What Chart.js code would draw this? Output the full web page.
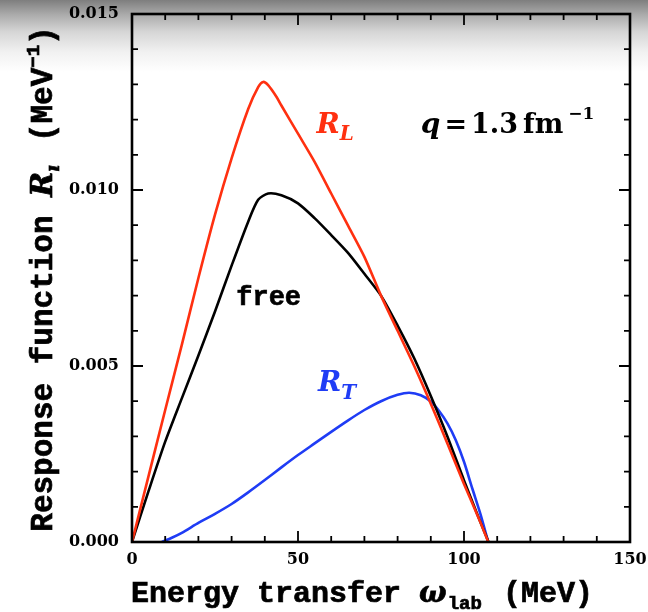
<!DOCTYPE html>
<html>
<head>
<meta charset="utf-8">
<script src="https://cdn.jsdelivr.net/npm/chart.js@4/dist/chart.umd.min.js"></script>
<style>
  html, body { margin: 0; padding: 0; }
  body {
    width: 648px; height: 612px; overflow: hidden;
    background: linear-gradient(to bottom, #7e7e7e 0px, #a9a9a9 14px, #d6d6d6 32px, #f1f1f1 52px, #ffffff 72px);
  }
  canvas { display: block; }
</style>
</head>
<body>
<canvas id="chart" width="648" height="612" style="width:648px;height:612px"></canvas>
<script>
// Energy transfer (MeV) and response functions (MeV^-1), q = 1.3 fm^-1
const energyRL   = [0, 5, 10, 15, 20, 25, 30, 35, 38, 39.5, 41, 43.5, 45, 50, 55, 60, 65, 70, 75, 80, 85, 90, 95, 100, 105, 107.3];
const responseRL = [0, 0.00188, 0.00375, 0.0056, 0.0075, 0.0093, 0.0109, 0.0123, 0.01292, 0.01307, 0.01298, 0.01265, 0.0124, 0.0116, 0.0108, 0.0099, 0.0090, 0.0081, 0.0070, 0.0060, 0.0050, 0.00393, 0.0028, 0.00165, 0.00055, 0];

const energyFree   = [0, 5, 10, 15, 20, 25, 30, 35, 38, 41, 45, 50, 55, 60, 65, 70, 75, 80, 85, 90, 95, 100, 105, 107.4];
const responseFree = [0, 0.00145, 0.00285, 0.00408, 0.0053, 0.00655, 0.00785, 0.0091, 0.00972, 0.0099, 0.00985, 0.00962, 0.0092, 0.00872, 0.00822, 0.00762, 0.0070, 0.00615, 0.00522, 0.00415, 0.0030, 0.00175, 0.00055, 0];

const energyRT   = [9, 12, 15, 20, 25, 30, 35, 40, 45, 50, 55, 60, 65, 70, 75, 80, 83.5, 87, 90, 92.5, 95, 97.5, 100, 102.5, 105, 107.3];
const responseRT = [0, 0.00012, 0.00026, 0.00054, 0.0008, 0.00108, 0.00141, 0.00176, 0.00212, 0.00247, 0.0028, 0.00313, 0.00345, 0.00375, 0.0040, 0.00418, 0.00424, 0.00417, 0.00399, 0.00372, 0.00337, 0.0029, 0.00228, 0.00152, 0.00078, 0];

const xTicks = [0, 50, 100, 150];
const yTicks = [0, 0.005, 0.010, 0.015];

const RED = '#ff3010';
const BLUE = '#1f3cf5';
const BLACK = '#000000';

const toPoints = (xs, ys) => xs.map((x, i) => ({ x, y: ys[i] }));

const TICK_FONT = { family: 'DejaVu Serif', size: 16, weight: 'bold' };
const MONO = '"Liberation Mono", "DejaVu Sans Mono", monospace';
const SERIF = '"DejaVu Serif", serif';

// draw a run of text pieces (with sub/superscripts) centred on (cx, cy)
function drawRich(ctx, parts, cx, cy, rotation, thicken) {
  ctx.save();
  ctx.translate(cx, cy);
  ctx.rotate(rotation || 0);
  ctx.textBaseline = 'alphabetic';
  ctx.textAlign = 'left';
  let total = 0;
  const widths = parts.map(p => {
    ctx.font = p.font;
    const w = ctx.measureText(p.t).width + (p.gap || 0);
    total += w;
    return w;
  });
  let x = -total / 2;
  parts.forEach((p, i) => {
    ctx.font = p.font;
    ctx.fillStyle = p.color || '#000';
    ctx.fillText(p.t, x, p.dy || 0);
    if (thicken) {
      ctx.strokeStyle = p.color || '#000';
      ctx.lineWidth = thicken;
      ctx.strokeText(p.t, x, p.dy || 0);
    }
    x += widths[i];
  });
  ctx.restore();
}

// left-aligned run of text pieces starting at (x, y)
function drawRun(ctx, parts, x, y) {
  ctx.save();
  ctx.textBaseline = 'alphabetic';
  ctx.textAlign = 'left';
  parts.forEach(p => {
    ctx.font = p.font;
    ctx.fillStyle = p.color || '#000';
    ctx.fillText(p.t, x, y + (p.dy || 0));
    x += ctx.measureText(p.t).width + (p.gap || 0);
  });
  ctx.restore();
}

// frame with inward ticks on all four sides
const framePlugin = {
  id: 'frame',
  afterDatasetsDraw(chart) {
    const { ctx, chartArea: a, scales: { x, y } } = chart;
    ctx.save();
    ctx.strokeStyle = '#000';
    ctx.lineWidth = 1.8;
    ctx.lineCap = 'butt';
    ctx.beginPath();
    for (let v = 0; v <= 150; v += 10) {
      const px = x.getPixelForValue(v);
      const len = v % 50 === 0 ? 11 : 6;
      ctx.moveTo(px, a.bottom); ctx.lineTo(px, a.bottom - len);
      ctx.moveTo(px, a.top); ctx.lineTo(px, a.top + len);
    }
    for (let k = 0; k <= 15; k++) {
      const py = y.getPixelForValue(k * 0.001);
      const len = k % 5 === 0 ? 11 : 6;
      ctx.moveTo(a.left, py); ctx.lineTo(a.left + len, py);
      ctx.moveTo(a.right, py); ctx.lineTo(a.right - len, py);
    }
    ctx.stroke();
    ctx.lineWidth = 2.6;
    ctx.strokeRect(a.left, a.top, a.right - a.left, a.bottom - a.top);
    ctx.restore();
  }
};

// axis titles and curve labels
const labelPlugin = {
  id: 'labels',
  afterDraw(chart) {
    const { ctx, scales: { x, y } } = chart;
    // x-axis title
    drawRich(ctx, [
      { t: 'Energy transfer ', font: `bold 30px ${MONO}` },
      { t: 'ω', font: `bold italic 29px ${SERIF}`, gap: 1 },
      { t: 'lab', font: `bold 19px ${MONO}`, dy: 7, gap: 3 },
      { t: ' (MeV)', font: `bold 30px ${MONO}` }
    ], 362, 602, 0, 0.7);
    // y-axis title
    drawRich(ctx, [
      { t: 'Response function ', font: `bold 31px ${MONO}` },
      { t: 'R', font: `bold italic 30px ${SERIF}` },
      { t: 'ı', font: `bold italic 19px ${SERIF}`, dy: 7, gap: 4 },
      { t: ' (MeV', font: `bold 31px ${MONO}` },
      { t: '−1', font: `bold 19px ${MONO}`, dy: -13 },
      { t: ')', font: `bold 31px ${MONO}` }
    ], 52, 279, -Math.PI / 2, 0.7);

    // R_L
    drawRun(ctx, [
      { t: 'R', font: `bold italic 28px ${SERIF}`, color: RED },
      { t: 'L', font: `bold italic 20px ${SERIF}`, color: RED, dy: 7 }
    ], x.getPixelForValue(55.6), y.getPixelForValue(0.01163));
    // R_T
    drawRun(ctx, [
      { t: 'R', font: `bold italic 28px ${SERIF}`, color: BLUE },
      { t: 'T', font: `bold italic 20px ${SERIF}`, color: BLUE, dy: 8 }
    ], x.getPixelForValue(56.0), y.getPixelForValue(0.00428));
    // free
    ctx.save();
    ctx.font = `bold 27px ${MONO}`;
    ctx.fillStyle = '#000';
    ctx.strokeStyle = '#000';
    ctx.lineWidth = 0.6;
    ctx.fillText('free', x.getPixelForValue(31.4), y.getPixelForValue(0.00673));
    ctx.strokeText('free', x.getPixelForValue(31.4), y.getPixelForValue(0.00673));
    ctx.restore();
    // q = 1.3 fm^-1
    drawRun(ctx, [
      { t: 'q', font: `bold italic 28px ${SERIF}`, gap: 4 },
      { t: '=', font: `bold 27px ${SERIF}`, gap: 4 },
      { t: '1.3', font: `bold 27px ${SERIF}`, gap: 5 },
      { t: 'fm', font: `bold 27px ${SERIF}`, gap: 5 },
      { t: '−1', font: `bold 17px ${SERIF}`, dy: -14 }
    ], x.getPixelForValue(87.0), y.getPixelForValue(0.01163));
  }
};

new Chart(document.getElementById('chart'), {
  type: 'scatter',
  data: {
    datasets: [
      { label: 'R_L', data: toPoints(energyRL, responseRL), borderColor: RED },
      { label: 'free', data: toPoints(energyFree, responseFree), borderColor: BLACK },
      { label: 'R_T', data: toPoints(energyRT, responseRT), borderColor: BLUE }
    ].map(d => Object.assign(d, {
      showLine: true, pointRadius: 0, borderWidth: 2.6,
      tension: 0.25, fill: false
    }))
  },
  options: {
    responsive: false,
    animation: false,
    events: [],
    layout: { padding: { top: 14, right: 18, left: 0, bottom: 0 } },
    plugins: { legend: { display: false }, tooltip: { enabled: false } },
    scales: {
      x: {
        type: 'linear', min: 0, max: 150,
        afterBuildTicks: s => { s.ticks = xTicks.map(v => ({ value: v })); },
        ticks: { font: TICK_FONT, color: '#000', padding: 8, maxRotation: 0, callback: v => String(v) },
        grid: { display: false, drawTicks: false },
        border: { display: false },
        afterFit: s => { s.height = 70; s.paddingLeft = 0; s.paddingRight = 0; }
      },
      y: {
        type: 'linear', min: 0, max: 0.015,
        afterBuildTicks: s => { s.ticks = yTicks.map(v => ({ value: v })); },
        ticks: { font: TICK_FONT, color: '#000', padding: 13, callback: v => v.toFixed(3) },
        grid: { display: false, drawTicks: false },
        border: { display: false },
        afterFit: s => { s.width = 132; s.paddingTop = 0; s.paddingBottom = 0; }
      }
    }
  },
  plugins: [framePlugin, labelPlugin]
});
</script>
</body>
</html>
